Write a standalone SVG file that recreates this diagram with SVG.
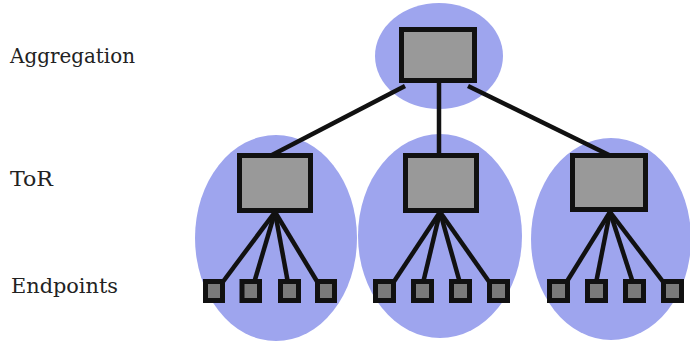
<svg xmlns="http://www.w3.org/2000/svg" width="690" height="347" viewBox="0 0 690 347">
<style>
.cloud{fill:#9ea5ee}
.sw{fill:#999999;stroke:#111;stroke-width:5}
.ep{fill:#7a7a7a;stroke:#111;stroke-width:5}
.ln{stroke:#111;stroke-width:4.5;fill:none;stroke-linecap:butt}
.lbl{font-family:"DejaVu Serif","Liberation Serif",serif;font-size:20.5px;fill:#222}
</style>
<rect width="690" height="347" fill="#fff"/>
<text class="lbl" x="10" y="63" textLength="125" lengthAdjust="spacingAndGlyphs">Aggregation</text>
<text class="lbl" x="10" y="186" textLength="43" lengthAdjust="spacingAndGlyphs">ToR</text>
<text class="lbl" x="11" y="293" textLength="107" lengthAdjust="spacingAndGlyphs">Endpoints</text>
<g id="clouds">
<ellipse class="cloud" cx="439" cy="56" rx="64" ry="53"/>
<ellipse class="cloud" cx="276" cy="238" rx="81" ry="103"/>
<ellipse class="cloud" cx="440" cy="236" rx="82" ry="102"/>
<ellipse class="cloud" cx="611" cy="239" rx="80" ry="101"/>
</g>
<g id="connectors">
<line class="ln" x1="405" y1="86" x2="272" y2="155"/>
<line class="ln" x1="439" y1="82" x2="439" y2="155"/>
<line class="ln" x1="468" y1="86" x2="609" y2="155"/>
<line class="ln" x1="275" y1="212" x2="222" y2="283"/>
<line class="ln" x1="275" y1="212" x2="254" y2="283"/>
<line class="ln" x1="275" y1="212" x2="288" y2="283"/>
<line class="ln" x1="275" y1="212" x2="318" y2="283"/>
<line class="ln" x1="440" y1="212" x2="393" y2="283"/>
<line class="ln" x1="440" y1="212" x2="423" y2="283"/>
<line class="ln" x1="440" y1="212" x2="460" y2="283"/>
<line class="ln" x1="440" y1="212" x2="490" y2="283"/>
<line class="ln" x1="610" y1="212" x2="566" y2="283"/>
<line class="ln" x1="610" y1="212" x2="596" y2="283"/>
<line class="ln" x1="610" y1="212" x2="633" y2="283"/>
<line class="ln" x1="610" y1="212" x2="664" y2="283"/>
</g>
<g id="agg"><rect class="sw" x="401.5" y="29.5" width="73" height="51"/></g>
<g id="tor1"><rect class="sw" x="239.5" y="155.5" width="71" height="55"/></g>
<g id="tor2"><rect class="sw" x="405.5" y="155.5" width="71" height="55"/></g>
<g id="tor3"><rect class="sw" x="572.5" y="155.5" width="73" height="54"/></g>
<g id="ep1"><rect class="ep" x="205.5" y="281.5" width="17" height="19"/></g>
<g id="ep2"><rect class="ep" x="242" y="281.5" width="17.5" height="19"/></g>
<g id="ep3"><rect class="ep" x="280.5" y="281.5" width="18" height="19"/></g>
<g id="ep4"><rect class="ep" x="317.5" y="281.5" width="17" height="19"/></g>
<g id="ep5"><rect class="ep" x="375.5" y="281.5" width="18" height="19"/></g>
<g id="ep6"><rect class="ep" x="413.5" y="281.5" width="18" height="19"/></g>
<g id="ep7"><rect class="ep" x="451.5" y="281.5" width="18" height="19"/></g>
<g id="ep8"><rect class="ep" x="489.5" y="281.5" width="18" height="19"/></g>
<g id="ep9"><rect class="ep" x="549.5" y="281.5" width="18" height="19"/></g>
<g id="ep10"><rect class="ep" x="587.5" y="281.5" width="18" height="19"/></g>
<g id="ep11"><rect class="ep" x="625.5" y="281.5" width="18" height="19"/></g>
<g id="ep12"><rect class="ep" x="663.5" y="281.5" width="18" height="19"/></g>
</svg>
